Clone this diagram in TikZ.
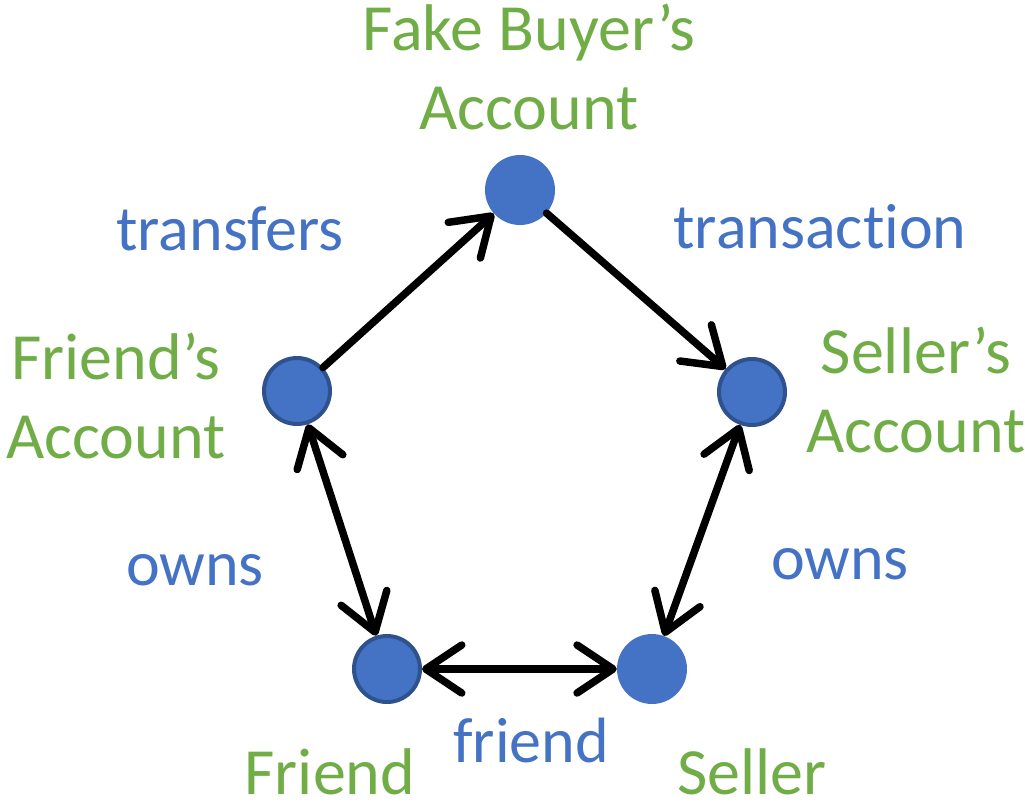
\documentclass[tikz,border=0pt]{standalone}
\usepackage{fontspec}
\setmainfont{Carlito}[Ligatures=NoCommon]
\usetikzlibrary{arrows.meta}
\definecolor{ogreen}{HTML}{70AD47}
\definecolor{oblue}{HTML}{4472C4}
\definecolor{odark}{HTML}{2F528F}
\begin{document}
\begin{tikzpicture}[x=1pt,y=-1pt,
  vtx/.style={circle,fill=oblue,minimum size=70pt,inner sep=0pt},
  bvtx/.style={vtx,draw=odark,line width=4pt,minimum size=66pt},
  glab/.style={text=ogreen,font=\fontsize{66}{79}\selectfont,align=center,inner sep=0pt,anchor=base},
  blab/.style={text=oblue,font=\fontsize{64}{74}\selectfont,inner sep=0pt,anchor=base},
  tip/.tip={Straight Barb[length=36pt,width=48pt,line cap=round,line join=round]},
  edge/.style={line width=7.5pt,line cap=round,line join=round,-tip},
  dedge/.style={line width=7.5pt,line cap=round,line join=round,tip-tip}]
\useasboundingbox (0,0) rectangle (1025,801);
\node[vtx]  (fb) at (520,190) {};
\node[bvtx] (fa) at (297,391) {};
\node[bvtx] (sa) at (752,392) {};
\node[bvtx] (fr) at (387,669) {};
\node[vtx]  (se) at (652,669) {};
\draw[edge] (fa) -- (fb);
\draw[edge] (fb) -- (sa);
\draw[dedge] (fa) -- (fr);
\draw[dedge] (sa) -- (se);
\draw[dedge] (fr) -- (se);
\node[glab] (lfb) at (529,129) {Fake Buyer’s\\Account};
\node[glab] (lfa) at (116,458) {Friend’s\\Account};
\node[glab] (lsa) at (916,452) {Seller’s\\Account};
\node[glab] (lfr) at (330,794) {Friend};
\node[glab] (lse) at (752,794) {Seller};
\node[blab] (ltr) at (230,250) {transfers};
\node[blab] (ltx) at (820,248) {transaction};
\node[blab] (lo1) at (195,585) {owns};
\node[blab] (lo2) at (840,579) {owns};
\node[blab] (lfd) at (531,762) {friend};
\end{tikzpicture}
\end{document}
